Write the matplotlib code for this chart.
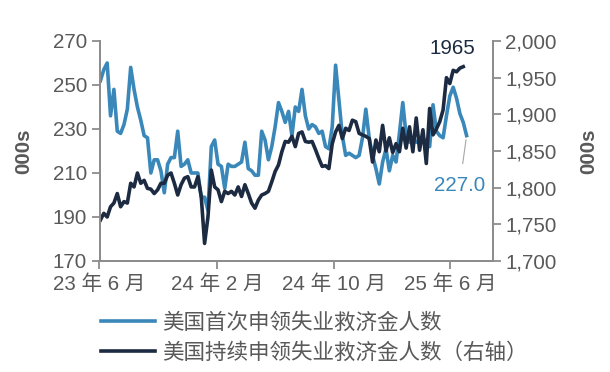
import numpy as np
import pandas as pd
import matplotlib
matplotlib.use("Agg")
import matplotlib.pyplot as plt
from matplotlib.ticker import FuncFormatter

plt.rcParams['font.family'] = ['Liberation Sans', 'Noto Sans CJK SC', 'DejaVu Sans']

# 美国首次申领失业救济金人数（千人，周度）
initial_claims = [
    252, 257, 260, 236, 248, 229, 228, 232, 239, 258,
    248, 240, 234, 227, 226, 210, 216, 216, 211, 201,
    214, 217, 217, 229, 213, 214, 216, 210, 210, 210,
    199, 199, 193, 222, 225, 214, 213, 203, 214, 213,
    213, 214, 215, 224, 212, 211, 209, 209, 229, 225,
    216, 222, 231, 242, 238, 233, 238, 227, 240, 238,
    248, 236, 230, 232, 231, 228, 229, 222, 221, 231,
    259, 243, 227, 218, 219, 218, 217, 218, 226, 239,
    226, 218, 212, 205, 215, 221, 211, 218, 215, 228,
    242, 227, 224, 226, 224, 224, 226, 224, 222, 241,
    229, 227, 226, 236, 245, 249, 244, 237, 233, 227.0,
]
# 美国持续申领失业救济金人数（千人，周度，右轴）
continuing_claims = [
    1756, 1765, 1760, 1774, 1779, 1792, 1774, 1781, 1779, 1806,
    1801, 1820, 1806, 1810, 1799, 1798, 1792, 1797, 1806, 1806,
    1817, 1820, 1806, 1790, 1804, 1813, 1815, 1801, 1801, 1815,
    1788, 1724, 1760, 1824, 1801, 1797, 1781, 1795, 1792, 1795,
    1790, 1801, 1788, 1804, 1792, 1779, 1772, 1783, 1790, 1792,
    1795, 1808, 1822, 1831, 1849, 1863, 1862, 1870, 1856, 1874,
    1876, 1863, 1862, 1863, 1852, 1840, 1829, 1830, 1826, 1860,
    1876, 1885, 1867, 1881, 1878, 1892, 1890, 1874, 1872, 1870,
    1867, 1835, 1865, 1849, 1885, 1850, 1868, 1848, 1860, 1849,
    1881, 1854, 1883, 1849, 1895, 1851, 1879, 1833, 1908, 1872,
    1880, 1890, 1906, 1950, 1942, 1960, 1958, 1963, 1965,
]
initial_dates = pd.date_range('2023-06-03', periods=len(initial_claims), freq='7D')
continuing_dates = pd.date_range('2023-06-03', periods=len(continuing_claims), freq='7D')

tick_dates = pd.to_datetime(['2023-06-01', '2024-02-01', '2024-10-01', '2025-06-01'])
tick_labels = ['23 年 6 月', '24 年 2 月', '24 年 10 月', '25 年 6 月']

label_initial = '美国首次申领失业救济金人数'
label_continuing = '美国持续申领失业救济金人数（右轴）'

blue = '#3a87b9'
navy = '#1c2b42'
gray_text = '#595959'
spine_gray = '#8c8c8c'
fs = 14.8

fig = plt.figure(figsize=(6.1, 3.72), dpi=100)
ax = fig.add_axes([99.5 / 610, 1 - 261 / 372, (493 - 99.5) / 610, 220 / 372])
ax2 = ax.twinx()

l1, = ax.plot(initial_dates, initial_claims, color=blue, lw=2.6, solid_joinstyle='round')
l2, = ax2.plot(continuing_dates, continuing_claims, color=navy, lw=2.6, solid_joinstyle='round')

ax.set_xlim(pd.Timestamp('2023-06-01'), pd.Timestamp('2025-08-29'))
ax.set_ylim(170, 270)
ax2.set_ylim(1700, 2000)
ax.set_yticks(np.arange(170, 271, 20))
ax2.set_yticks(np.arange(1700, 2001, 50))
ax2.yaxis.set_major_formatter(FuncFormatter(lambda v, p: f'{int(v):,}'))
ax.set_xticks(tick_dates)
ax.set_xticklabels(tick_labels)

for a in (ax, ax2):
    a.spines['top'].set_visible(False)
    for s in ('left', 'right', 'bottom'):
        a.spines[s].set_color(spine_gray)
        a.spines[s].set_linewidth(1.3)
    a.tick_params(colors=spine_gray, labelcolor=gray_text, labelsize=fs,
                  length=6, width=1.3, direction='out')
ax.tick_params(axis='x', pad=4)
ax.tick_params(axis='y', pad=3)
ax2.tick_params(axis='y', pad=3)

ax.set_ylabel('000s', fontsize=fs, fontweight='bold', color=gray_text, labelpad=14)
ax2.set_ylabel('000s', fontsize=fs, fontweight='bold', color=gray_text,
               rotation=90, labelpad=16)

# 数据标签
ax2.annotate('1965', xy=(continuing_dates[-1], continuing_claims[-1]),
             xytext=(-8, 13), textcoords='offset points', ha='center', va='center',
             fontsize=fs, color=navy)
ax.annotate('227.0', xy=(initial_dates[-1], initial_claims[-1]),
            xytext=(-5, -36), textcoords='offset points', ha='center', va='center',
            fontsize=fs, color=blue,
            arrowprops=dict(arrowstyle='-', color='#a6a6a6', lw=0.8,
                            shrinkA=7, shrinkB=3))

fig.legend([l1, l2], [label_initial, label_continuing],
           loc='upper left', bbox_to_anchor=(101 / 610, 1 - 313 / 372),
           frameon=False, fontsize=15.5, labelcolor=gray_text,
           handlelength=2.5, handletextpad=0.35, labelspacing=0.4,
           borderaxespad=0, borderpad=0)

fig.savefig('out.png', dpi=100)
